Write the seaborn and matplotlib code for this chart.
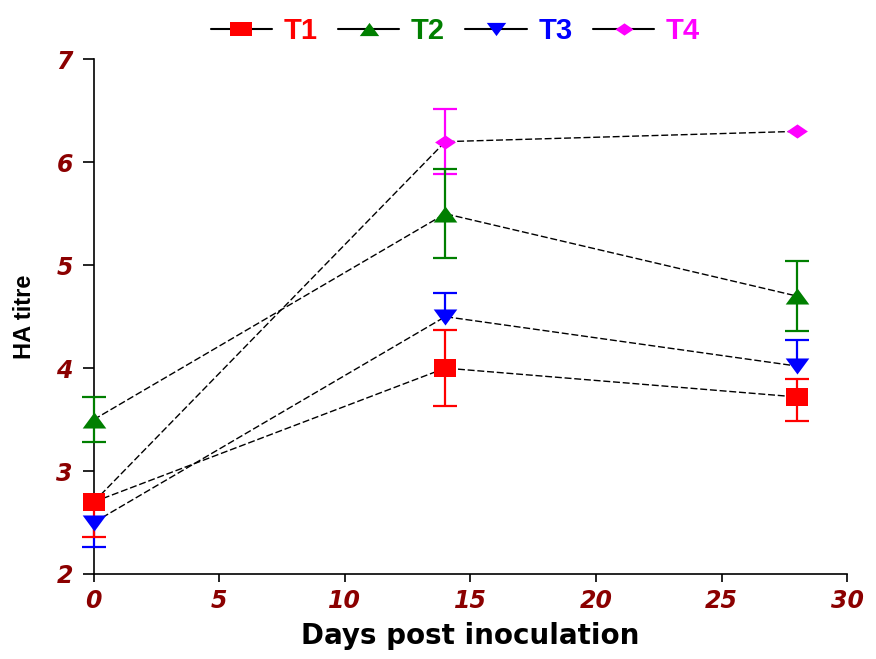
import matplotlib
matplotlib.use("Agg")
import matplotlib.pyplot as plt
import seaborn as sns
import pandas as pd
from matplotlib.lines import Line2D

sns.set_style("ticks")
plt.rcParams['font.family'] = ['Liberation Sans', 'DejaVu Sans']

days = [0, 14, 28]
series = ["T1", "T2", "T3", "T4"]
t1 = [2.70, 4.00, 3.72]
t2 = [3.50, 5.50, 4.70]
t3 = [2.50, 4.50, 4.02]
t4 = [2.70, 6.20, 6.30]
t1_lo = [0.34, 0.37, 0.23]
t1_hi = [0.00, 0.37, 0.17]
t2_lo = [0.22, 0.43, 0.34]
t2_hi = [0.22, 0.43, 0.34]
t3_lo = [0.24, 0.00, 0.00]
t3_hi = [0.00, 0.23, 0.25]
t4_lo = [0.00, 0.31, 0.00]
t4_hi = [0.00, 0.32, 0.00]

colors = {"T1": "#ff0000", "T2": "#007f00", "T3": "#0000ff", "T4": "#ff00ff"}
markers = {
    "T1": [(-1, -0.8), (1, -0.8), (1, 0.8), (-1, 0.8)],
    "T2": [(-1, -0.68), (1, -0.68), (0, 0.68)],
    "T3": [(-1, 0.68), (1, 0.68), (0, -0.68)],
    "T4": [(-1, 0), (0, 0.68), (1, 0), (0, -0.68)],
}
leg_markers = {
    "T1": [(-1, -0.6), (1, -0.6), (1, 0.6), (-1, 0.6)],
    "T2": [(-1, -0.68), (1, -0.68), (0, 0.68)],
    "T3": [(-1, 0.68), (1, 0.68), (0, -0.68)],
    "T4": [(-1, 0), (0, 0.68), (1, 0), (0, -0.68)],
}
msizes = {"T1": 16, "T2": 17, "T3": 17, "T4": 15}
leg_sizes = {"T1": 16, "T2": 14, "T3": 14, "T4": 13}
vals = {"T1": t1, "T2": t2, "T3": t3, "T4": t4}
los = {"T1": t1_lo, "T2": t2_lo, "T3": t3_lo, "T4": t4_lo}
his = {"T1": t1_hi, "T2": t2_hi, "T3": t3_hi, "T4": t4_hi}

fig = plt.figure(figsize=(8.76, 6.59), dpi=100)
ax = fig.add_axes([0.107, 0.129, 0.860, 0.781])

order = ["T4", "T3", "T2", "T1"]
for s in order:
    df = pd.DataFrame({"day": days, "val": vals[s]})
    sns.lineplot(data=df, x="day", y="val", ax=ax, color="black", lw=1.0,
                 linestyle=(0, (5, 2)), marker=None, legend=False)

cap_pts = 17
for s in order:
    c = colors[s]
    for x, y, lo, hi in zip(days, vals[s], los[s], his[s]):
        for end in (y - lo, y + hi):
            if end != y:
                ax.plot([x, x], [y, end], color=c, lw=1.6, zorder=3,
                        solid_capstyle="butt", clip_on=False)
                ax.plot([x], [end], marker="_", color=c, markersize=cap_pts,
                        markeredgewidth=1.6, zorder=3, clip_on=False)
    df = pd.DataFrame({"day": days, "val": vals[s]})
    sns.scatterplot(data=df, x="day", y="val", ax=ax, color=c, marker=markers[s],
                    s=msizes[s] ** 2, edgecolor=c, linewidth=0, zorder=4,
                    clip_on=False, legend=False)

ax.set_xlim(0, 30)
ax.set_ylim(2, 7)
ax.set_xticks([0, 5, 10, 15, 20, 25, 30])
ax.set_yticks([2, 3, 4, 5, 6, 7])
sns.despine(ax=ax)
for sp in ["left", "bottom"]:
    ax.spines[sp].set_linewidth(1.2)
    ax.spines[sp].set_color("black")
ax.tick_params(axis="both", direction="out", width=1.2, colors="black",
               labelcolor="#8b0000", labelsize=17)
ax.tick_params(axis="x", length=6, pad=5)
ax.tick_params(axis="y", length=8, pad=7)
for lab in ax.get_xticklabels() + ax.get_yticklabels():
    lab.set_family("DejaVu Sans")
    lab.set_fontweight("bold")
    lab.set_fontstyle("italic")

ax.set_xlabel("Days post inoculation", fontsize=20, fontweight="bold",
              family="DejaVu Sans", labelpad=6, color="black")
ax.set_ylabel("HA titre", fontsize=17, fontweight="bold", labelpad=15,
              color="black")

handles = [Line2D([0], [0], color="black", lw=1.5, marker=leg_markers[s],
                  markerfacecolor=colors[s], markeredgecolor=colors[s],
                  markeredgewidth=0, markersize=leg_sizes[s]) for s in series]
leg = ax.legend(handles, series, loc="lower center", bbox_to_anchor=(0.48, 1.0),
                ncol=4, frameon=False, handlelength=2.1, columnspacing=0.7,
                handletextpad=0.4, prop={"size": 21, "weight": "bold"},
                labelcolor=[colors[s] for s in series], borderaxespad=0.1)

fig.savefig("out.png", dpi=100)
